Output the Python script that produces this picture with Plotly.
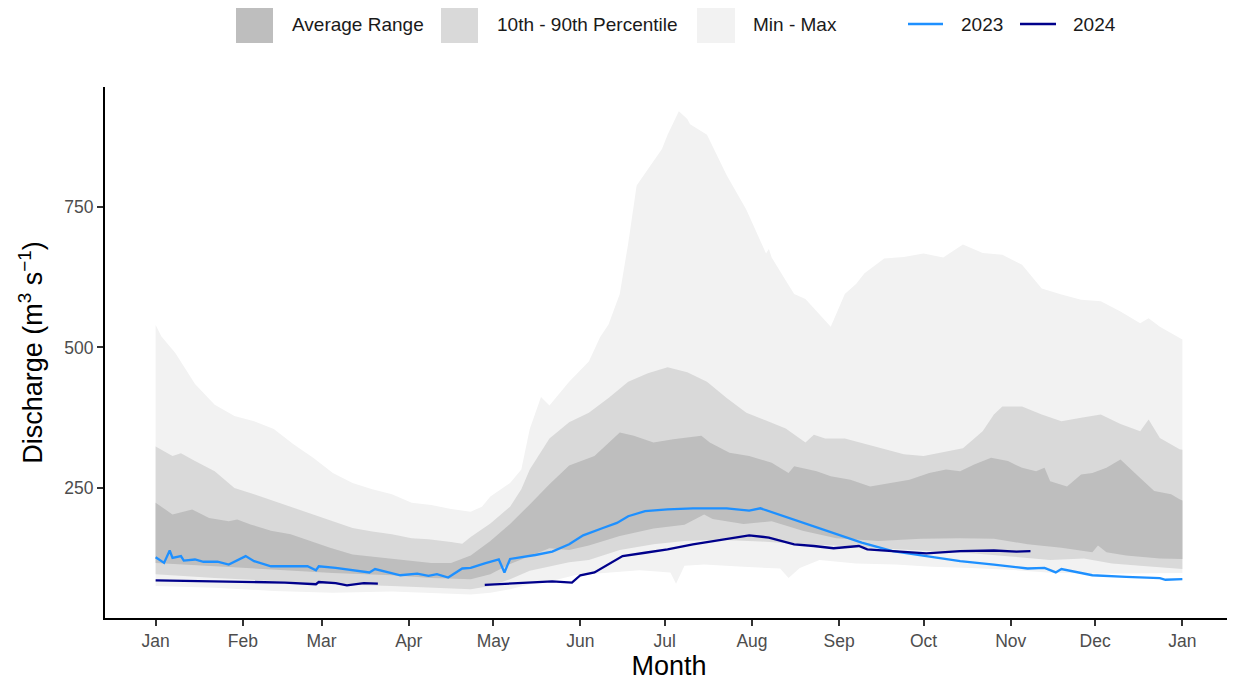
"""
Daily discharge envelope (min-max, 10th-90th percentile, average range)
with the 2023 and 2024 hydrographs drawn on top.
"""

import pandas as pd
import plotly.graph_objects as go


# ---------------------------------------------------------------------------
# Data (day of year, value in m3/s)
# ---------------------------------------------------------------------------

BASE = pd.Timestamp("2023-01-01")

MAX_DAY = [0, 2, 7, 14, 21, 28, 35, 42, 49, 56, 63, 70, 77, 84, 91, 98, 105, 112,
           116, 119, 126, 130, 133, 137, 140, 147, 154, 158, 161, 165, 168, 171,
           175, 180, 182, 186, 189, 190, 196, 203, 210, 217, 218, 219, 224, 227,
           231, 238, 240, 245, 249, 252, 259, 266, 273, 280, 287, 294, 301, 308,
           315, 322, 329, 336, 343, 350, 353, 357, 364, 365]
MAX_VAL = [540, 520, 490, 435, 398, 378, 369, 355, 328, 304, 277, 259, 248, 239,
           224, 220, 213, 208, 217, 235, 259, 283, 355, 412, 397, 439, 475, 518,
           541, 595, 685, 788, 817, 853, 878, 920, 906, 897, 878, 806, 745, 667,
           675, 660, 619, 595, 586, 547, 537, 595, 613, 632, 658, 661, 667, 660,
           683, 668, 665, 647, 605, 594, 585, 582, 564, 543, 552, 537, 516, 514]

MIN_DAY = [0, 21, 42, 63, 84, 98, 112, 119, 126, 133, 140, 149, 161, 172, 183,
           185, 188, 195, 209, 222, 225, 229, 236, 249, 263, 276, 290, 303, 317,
           330, 344, 357, 365]
MIN_VAL = [76, 73, 67, 64, 66, 64, 61, 64, 70, 79, 84, 95, 100, 104, 100, 80, 112,
           114, 110, 107, 90, 108, 122, 116, 114, 110, 108, 105, 100, 98, 98, 98, 99]

P90_DAY = [0, 6, 9, 14, 21, 28, 35, 42, 49, 56, 63, 70, 77, 84, 91, 97, 105, 109,
           112, 119, 126, 130, 133, 140, 147, 154, 161, 168, 175, 182, 189, 196,
           203, 210, 217, 224, 231, 234, 238, 245, 252, 259, 266, 273, 280, 287,
           294, 298, 301, 308, 315, 322, 329, 336, 343, 350, 353, 357, 364, 365]
P90_VAL = [324, 307, 312, 298, 280, 250, 239, 227, 214, 203, 191, 179, 173, 168,
           161, 159, 154, 151, 163, 187, 217, 248, 283, 338, 367, 384, 410, 439,
           454, 465, 456, 439, 410, 384, 370, 356, 331, 345, 338, 338, 329, 320,
           310, 307, 314, 321, 351, 381, 395, 395, 381, 369, 375, 381, 364, 351,
           372, 339, 319, 318]

P10_DAY = [0, 21, 42, 63, 84, 98, 112, 119, 126, 133, 140, 147, 154, 165, 177,
           188, 200, 215, 230, 245, 260, 275, 290, 305, 318, 330, 340, 350, 365]
P10_VAL = [97, 90, 85, 79, 76, 73, 70, 76, 88, 103, 111, 118, 122, 140, 150, 156,
           158, 155, 150, 147, 142, 138, 134, 128, 122, 125, 116, 112, 106]

AVG_HI_DAY = [0, 6, 13, 19, 26, 29, 34, 41, 48, 55, 62, 70, 77, 84, 91, 98, 105,
              112, 119, 126, 133, 140, 147, 156, 165, 170, 177, 184, 194, 197,
              204, 211, 219, 225, 227, 232, 235, 240, 247, 254, 261, 268, 275,
              281, 286, 291, 297, 303, 308, 313, 316, 318, 324, 329, 333, 338,
              343, 345, 350, 355, 361, 364, 365]
AVG_HI_VAL = [224, 203, 212, 197, 191, 194, 185, 174, 168, 156, 144, 132, 128,
              124, 120, 117, 117, 130, 156, 186, 221, 257, 290, 307, 349, 343,
              331, 337, 343, 331, 313, 307, 295, 277, 289, 283, 280, 271, 265,
              253, 259, 265, 277, 283, 280, 292, 304, 298, 286, 280, 286, 262,
              253, 274, 277, 286, 301, 292, 268, 245, 239, 230, 228]

AVG_LO_DAY = [0, 21, 42, 63, 84, 98, 112, 119, 126, 133, 140, 147, 154, 165, 177,
              188, 195, 198, 209, 219, 230, 242, 257, 272, 286, 298, 310, 322,
              333, 335, 338, 345, 357, 365]
AVG_LO_VAL = [117, 111, 106, 99, 95, 90, 88, 97, 115, 129, 143, 140, 148, 165, 178,
              185, 203, 195, 186, 191, 174, 161, 156, 160, 161, 160, 150, 144, 136,
              148, 136, 130, 125, 124]

Y2023_DAY = [0, 3, 5, 6, 9, 10, 14, 17, 22, 26, 32, 35, 41, 48, 54, 57, 58, 64,
             70, 76, 78, 87, 93, 97, 100, 104, 109, 112, 117, 122, 124, 126, 135,
             141, 147, 152, 159, 164, 168, 174, 182, 191, 203, 211, 215, 227, 239,
             251, 262, 274, 286, 298, 310, 316, 320, 322, 333, 345, 357, 359, 365]
Y2023_VAL = [127, 117, 139, 126, 129, 121, 123, 119, 119, 114, 129, 120, 111, 111,
             111, 104, 111, 108, 104, 100, 106, 95, 98, 94, 97, 91, 107, 108, 116,
             123, 100, 124, 131, 137, 150, 166, 179, 188, 200, 209, 212, 214, 214,
             210, 214, 194, 174, 153, 138, 129, 120, 114, 107, 108, 100, 106, 95,
             92, 90, 87, 88]

# None marks the missing stretch between late March and late April
Y2024_DAY = [0, 22, 46, 57, 58, 64, 68, 74, 79, 98, 117, 129, 141, 148, 151, 156,
             162, 166, 174, 182, 191, 203, 211, 218, 227, 234, 241, 250, 253, 262,
             274, 286, 298, 306, 311]
Y2024_VAL = [86, 84, 82, 79, 83, 81, 77, 81, 80, None, 78, 81, 84, 82, 95, 100,
             117, 129, 135, 141, 150, 159, 166, 162, 150, 147, 143, 147, 141, 138,
             134, 138, 139, 137, 138]

MONTH_LABELS = ["Jan", "Feb", "Mar", "Apr", "May", "Jun", "Jul", "Aug", "Sep",
                "Oct", "Nov", "Dec", "Jan"]
Y_TICKS = [250, 500, 750]

# ---------------------------------------------------------------------------
# Style
# ---------------------------------------------------------------------------

FONT = "Liberation Sans, Arial, sans-serif"
C_MINMAX = "#f2f2f2"
C_PCT = "#d9d9d9"
C_AVG = "#bebebe"
C_2023 = "#1e90ff"
C_2024 = "#00008b"

# the page puts the figure 8px in from the top-left corner
PAGE_OFF = 8
W, H = 1235 - PAGE_OFF, 685 - PAGE_OFF
M_L, M_R, M_T, M_B = 105 - PAGE_OFF, 2, 87 - PAGE_OFF, 67


def to_dates(days):
    return BASE + pd.to_timedelta(days, unit="D")


def px_x(px):
    # screen pixel -> paper fraction
    return (px - PAGE_OFF - M_L) / (W - M_L - M_R)


def px_y(py):
    return (H - M_B - (py - PAGE_OFF)) / (H - M_T - M_B)


def add_band(fig, lo_day, lo_val, hi_day, hi_val, color, name):
    fig.add_trace(go.Scatter(
        x=to_dates(lo_day), y=lo_val, mode="lines",
        line=dict(width=0, color=color), showlegend=False, hoverinfo="skip",
    ))
    fig.add_trace(go.Scatter(
        x=to_dates(hi_day), y=hi_val, mode="lines",
        line=dict(width=0, color=color), fill="tonexty", fillcolor=color,
        name=name, showlegend=False,
    ))


fig = go.Figure()

add_band(fig, MIN_DAY, MIN_VAL, MAX_DAY, MAX_VAL, C_MINMAX, "Min - Max")
add_band(fig, P10_DAY, P10_VAL, P90_DAY, P90_VAL, C_PCT, "10th - 90th Percentile")
add_band(fig, AVG_LO_DAY, AVG_LO_VAL, AVG_HI_DAY, AVG_HI_VAL, C_AVG, "Average Range")

fig.add_trace(go.Scatter(
    x=to_dates(Y2023_DAY), y=Y2023_VAL, mode="lines", name="2023",
    line=dict(color=C_2023, width=2.3), showlegend=False,
))
fig.add_trace(go.Scatter(
    x=to_dates(Y2024_DAY), y=Y2024_VAL, mode="lines", name="2024",
    line=dict(color=C_2024, width=2.3), showlegend=False, connectgaps=False,
))

# hand-drawn legend across the top
legend_boxes = [
    (236, 273, C_AVG, 290, "Average Range"),
    (441, 478, C_PCT, 495, "10th - 90th Percentile"),
    (697, 735, C_MINMAX, 751, "Min - Max"),
]
for x0, x1, color, tx, label in legend_boxes:
    fig.add_shape(type="rect", xref="paper", yref="paper",
                  x0=px_x(x0), x1=px_x(x1), y0=px_y(43), y1=px_y(5),
                  fillcolor=color, line=dict(width=0))
    fig.add_annotation(x=px_x(tx), y=px_y(24), xref="paper", yref="paper",
                       text=label, showarrow=False, xanchor="left", yanchor="middle",
                       font=dict(size=19, color="#1a1a1a", family=FONT))

legend_lines = [
    (908, 943, C_2023, 959, "2023"),
    (1020, 1056, C_2024, 1071, "2024"),
]
for x0, x1, color, tx, label in legend_lines:
    fig.add_shape(type="line", xref="paper", yref="paper",
                  x0=px_x(x0), x1=px_x(x1), y0=px_y(24), y1=px_y(24),
                  line=dict(color=color, width=2.3))
    fig.add_annotation(x=px_x(tx), y=px_y(24), xref="paper", yref="paper",
                       text=label, showarrow=False, xanchor="left", yanchor="middle",
                       font=dict(size=19, color="#1a1a1a", family=FONT))

fig.update_layout(
    width=W,
    height=H,
    margin=dict(l=M_L, r=M_R, t=M_T, b=M_B),
    plot_bgcolor="white",
    paper_bgcolor="white",
    font=dict(family=FONT),
    showlegend=False,
    xaxis=dict(
        type="date",
        range=[BASE - pd.Timedelta(days=18), BASE + pd.Timedelta(days=383)],
        tickvals=pd.date_range(BASE, periods=len(MONTH_LABELS), freq="MS"),
        ticktext=MONTH_LABELS,
        showgrid=False, zeroline=False,
        showline=True, linecolor="black", linewidth=2,
        ticks="outside", ticklen=6, tickwidth=1.5, tickcolor="#333333",
        tickfont=dict(size=17.5, color="#4d4d4d"),
        title=dict(text="Month", font=dict(size=27, color="black"), standoff=4),
    ),
    yaxis=dict(
        range=[19, 963],
        tickvals=Y_TICKS,
        showgrid=False, zeroline=False,
        showline=True, linecolor="black", linewidth=2,
        ticks="outside", ticklen=6, tickwidth=1.5, tickcolor="#333333",
        tickfont=dict(size=17.5, color="#4d4d4d"),
        title=dict(text="Discharge (m<sup>3</sup> s<sup>\u22121</sup>)",
                   font=dict(size=27, color="black"), standoff=14),
    ),
)

fig.write_html("out.html")
